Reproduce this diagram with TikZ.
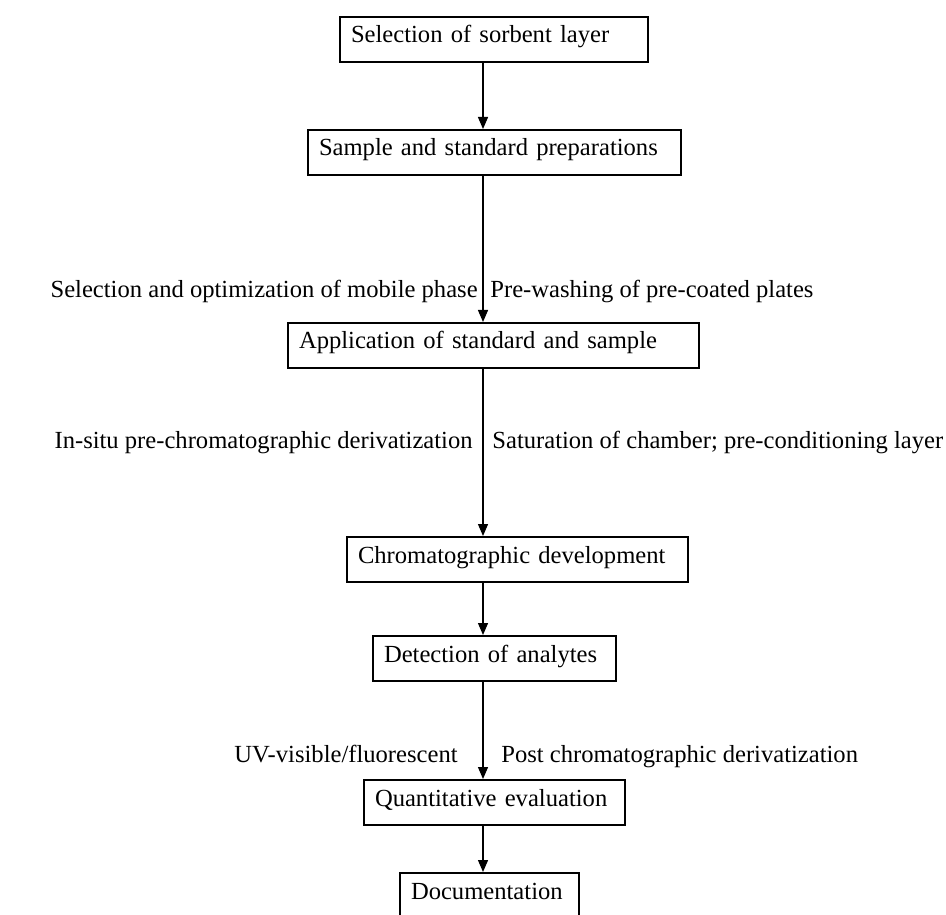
\documentclass[tikz,border=0pt]{standalone}
\usepackage{fontspec}
\setmainfont{Liberation Serif}
\usepackage{tikz}
\usetikzlibrary{positioning, arrows.meta, calc}

\begin{document}
\begin{tikzpicture}[
        x=0.5pt, y=-0.5pt,
        >={Triangle[width=5pt,length=6pt]},
        stepbox/.style={draw, line width=1pt, anchor=north west, align=left,
            inner xsep=5.5pt, inner ysep=0pt, text height=13pt, text depth=9.5pt},
        flow/.style={->, line width=0.65pt},
        every node/.style={font=\fontsize{12.3}{15}\selectfont}
    ]
    \useasboundingbox (0,0) rectangle (946,914);

    % --- Steps ---
    \node[stepbox, text width=143pt]   (sorbent)  at (339,16)  {Selection of sorbent layer};
    \node[stepbox, text width=175.5pt] (prep)     at (307,129) {Sample and standard preparations};
    \node[stepbox, text width=194.5pt] (apply)    at (287,322) {Application of standard and sample};
    \node[stepbox, text width=159.5pt] (develop)  at (346,536) {Chromatographic development};
    \node[stepbox, text width=110.5pt] (detect)   at (372,635) {Detection of analytes};
    \node[stepbox, text width=119.5pt] (quant)    at (363,779) {Quantitative evaluation};
    \node[stepbox, text width=78.5pt, text depth=12pt] (docu) at (399,872) {Documentation};

    % the vertical line all arrows follow
    \coordinate (spine) at (483,0);

    % --- Arrows ---
    \draw[flow] (sorbent.south -| spine) -- (prep.north -| spine);
    \draw[flow] (prep.south -| spine) -- (apply.north -| spine);
    \draw[flow] (apply.south -| spine) -- (develop.north -| spine);
    \draw[flow] (develop.south -| spine) -- (detect.north -| spine);
    \draw[flow] (detect.south -| spine) -- (quant.north -| spine);
    \draw[flow] (quant.south -| spine) -- (docu.north -| spine);

    % --- Side notes ---
    \node[anchor=base east, inner sep=0pt] (mobile)  at (478,298) {Selection and optimization of mobile phase};
    \node[anchor=base west, inner sep=0pt] (prewash) at (490,298) {Pre-washing of pre-coated plates};
    \node[anchor=base east, inner sep=0pt] (insitu)  at (473,448) {In-situ pre-chromatographic derivatization};
    \node[anchor=base west, inner sep=0pt] (satur)   at (492,448) {Saturation of chamber; pre-conditioning layer};
    \node[anchor=base east, inner sep=0pt] (uvvis)   at (458,762) {UV-visible/fluorescent};
    \node[anchor=base west, inner sep=0pt] (postder) at (501,762) {Post chromatographic derivatization};

\end{tikzpicture}
\end{document}
